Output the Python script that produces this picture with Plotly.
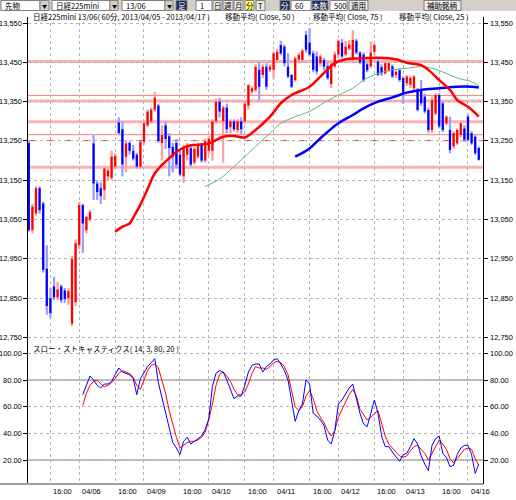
import plotly.graph_objects as go

# 日経225mini 13/06 60分足  (index 0 = 2013/04/05 10:00)
opens = [13245, 13023, 13066, 13130, 13091, 12925, 12850, 12880, 12852, 12880,
         12870, 12850, 12785, 12840, 12985, 13087, 13023, 13050, 13244, 13142,
         13130, 13125, 13160, 13156, 13185, 13297, 13280, 13210, 13245, 13225,
         13215, 13185, 13248, 13290, 13300, 13330, 13340, 13245, 13290, 13262,
         13235, 13245, 13215, 13160, 13215, 13232, 13195, 13210, 13240, 13200,
         13225, 13225, 13300, 13350, 13300, 13335, 13285, 13300, 13278, 13300,
         13300, 13340, 13376, 13380, 13431, 13418, 13439, 13431, 13431, 13456,
         13494, 13490, 13439, 13418, 13405, 13457, 13456, 13520, 13500, 13473,
         13465, 13448, 13456, 13440, 13395, 13440, 13470, 13500, 13470, 13485,
         13456, 13505, 13475, 13470, 13445, 13440, 13477, 13452, 13438, 13422,
         13430, 13440, 13418, 13430, 13410, 13397, 13393, 13384, 13380, 13380,
         13363, 13329, 13278, 13320, 13367, 13346, 13295, 13278, 13236, 13244,
         13265, 13282, 13312, 13270, 13261, 13232]
highs = [13250, 13090, 13135, 13135, 13095, 12985, 12876, 12905, 12892, 12885,
         12876, 12875, 12958, 13000, 13095, 13090, 13060, 13075, 13265, 13150,
         13145, 13185, 13180, 13225, 13218, 13310, 13300, 13250, 13250, 13240,
         13220, 13250, 13300, 13330, 13335, 13375, 13345, 13290, 13300, 13270,
         13245, 13255, 13225, 13240, 13245, 13240, 13235, 13245, 13245, 13255,
         13262, 13305, 13358, 13360, 13340, 13345, 13305, 13305, 13305, 13310,
         13350, 13395, 13390, 13445, 13452, 13445, 13448, 13445, 13478, 13485,
         13505, 13495, 13473, 13420, 13465, 13475, 13485, 13530, 13537, 13480,
         13478, 13470, 13462, 13450, 13450, 13478, 13508, 13510, 13505, 13507,
         13532, 13510, 13478, 13475, 13450, 13503, 13498, 13460, 13445, 13452,
         13450, 13445, 13430, 13435, 13415, 13418, 13415, 13418, 13385, 13405,
         13370, 13335, 13363, 13372, 13372, 13350, 13315, 13312, 13275, 13282,
         13300, 13290, 13318, 13275, 13265, 13236]
lows = [13020, 13015, 13060, 13065, 12915, 12808, 12800, 12845, 12845, 12838,
        12838, 12833, 12778, 12830, 12975, 12965, 13015, 13045, 13100, 13100,
        13090, 13100, 13150, 13150, 13180, 13265, 13160, 13170, 13215, 13200,
        13180, 13180, 13240, 13285, 13295, 13325, 13245, 13200, 13230, 13160,
        13170, 13180, 13160, 13143, 13200, 13185, 13190, 13205, 13195, 13195,
        13215, 13200, 13295, 13310, 13195, 13270, 13270, 13275, 13270, 13268,
        13295, 13330, 13370, 13375, 13354, 13410, 13380, 13425, 13410, 13450,
        13468, 13440, 13410, 13385, 13400, 13450, 13450, 13475, 13465, 13425,
        13420, 13440, 13430, 13405, 13385, 13435, 13460, 13460, 13465, 13480,
        13450, 13470, 13445, 13400, 13425, 13435, 13470, 13415, 13415, 13418,
        13425, 13410, 13410, 13400, 13345, 13390, 13385, 13380, 13325, 13340,
        13320, 13270, 13270, 13315, 13282, 13272, 13290, 13219, 13230, 13240,
        13260, 13248, 13248, 13240, 13215, 13200]
closes = [13023, 13083, 13130, 13074, 12922, 12830, 12812, 12852, 12872, 12845,
          12848, 12868, 12950, 12990, 13087, 13040, 13057, 13069, 13142, 13120,
          13110, 13180, 13175, 13210, 13212, 13270, 13190, 13244, 13225, 13205,
          13185, 13248, 13295, 13325, 13330, 13360, 13250, 13265, 13255, 13232,
          13210, 13190, 13165, 13235, 13235, 13190, 13230, 13240, 13200, 13250,
          13255, 13300, 13350, 13325, 13335, 13280, 13300, 13280, 13300, 13280,
          13345, 13392, 13384, 13439, 13388, 13439, 13388, 13439, 13473, 13477,
          13473, 13448, 13414, 13388, 13460, 13469, 13480, 13482, 13470, 13431,
          13427, 13465, 13439, 13410, 13445, 13470, 13505, 13465, 13490, 13495,
          13507, 13475, 13450, 13405, 13430, 13475, 13494, 13418, 13422, 13448,
          13448, 13414, 13426, 13405, 13370, 13414, 13410, 13414, 13329, 13346,
          13325, 13278, 13354, 13367, 13287, 13278, 13312, 13227, 13270, 13278,
          13295, 13253, 13253, 13244, 13219, 13202]

# moving averages (bar index, value)
ma25_idx = [24, 26, 28, 29, 31, 33, 35, 37, 39, 41, 44, 50, 54, 57, 60, 63, 67, 70,
            73, 78, 81, 85, 88, 91, 94, 97, 102, 105, 109, 111, 114, 117, 119, 122, 125]
ma25_val = [13019, 13032, 13040, 13055, 13088, 13128, 13168, 13189, 13206, 13222,
            13237, 13244, 13261, 13263, 13259, 13278, 13312, 13346, 13367, 13388,
            13414, 13448, 13458, 13460, 13461, 13462, 13458, 13449, 13443, 13431,
            13405, 13380, 13354, 13337, 13312]
ma50_idx = [49, 53, 55, 59, 63, 67, 70, 74, 78, 81, 86, 90, 93, 97, 101, 105, 109,
            112, 116, 119, 123, 125]
ma50_val = [13134, 13153, 13168, 13202, 13236, 13270, 13295, 13312, 13325, 13342,
            13367, 13384, 13405, 13422, 13431, 13435, 13439, 13435, 13422, 13410,
            13401, 13390]
ma75_idx = [74, 78, 81, 86, 90, 93, 97, 101, 105, 109, 114, 119, 123, 125]
ma75_val = [13210, 13231, 13257, 13295, 13316, 13333, 13350, 13361, 13373, 13380,
            13384, 13388, 13388, 13386]

# slow stochastics (14, 3) from bar 15
stoch_start = 15
stoch_k = [69, 76, 83, 80, 76, 74, 77, 77, 79, 84,
           89, 86, 85, 84, 81, 69, 81, 86, 90, 93,
           96, 78, 67, 55, 43, 33, 29, 24, 34, 37,
           32, 34, 36, 38, 43, 51, 75, 85, 87, 86,
           80, 73, 66, 68, 68, 76, 86, 91, 92, 92,
           86, 90, 92, 95, 96, 92, 87, 80, 65, 49,
           57, 62, 80, 77, 55, 53, 50, 46, 35, 32,
           42, 62, 65, 70, 74, 77, 66, 55, 47, 45,
           55, 65, 55, 38, 30, 30, 26, 22, 19, 24,
           25, 30, 36, 32, 23, 17, 12, 31, 36, 38,
           25, 22, 15, 16, 24, 29, 31, 31, 24, 10,
           17]
stoch_d = [61, 70, 76, 79, 80, 77, 75, 76, 78, 81,
           85, 87, 86, 85, 82, 76, 73, 80, 87, 91,
           92, 89, 80, 70, 57, 46, 37, 29, 31, 33,
           34, 34, 35, 37, 41, 50, 62, 76, 84, 86,
           83, 79, 73, 69, 69, 71, 77, 85, 90, 89,
           89, 88, 90, 93, 94, 93, 90, 84, 72, 60,
           57, 60, 68, 72, 66, 57, 52, 48, 42, 38,
           42, 52, 58, 64, 69, 73, 68, 58, 54, 50,
           52, 55, 57, 48, 38, 32, 29, 26, 23, 22,
           23, 27, 30, 31, 28, 25, 20, 25, 31, 35,
           32, 28, 21, 18, 21, 25, 28, 29, 28, 21,
           16]

# horizontal price lines
level_prices = [13452, 13366, 13352, 13299, 13266, 13251, 13183]
level_kinds = ['band', 'thin', 'band', 'band', 'thin', 'dash', 'band']

x_tick_idx = [6, 14, 24, 32, 42, 50, 60, 68, 78, 86, 96, 104, 114, 122]
x_tick_text = ['16:00', '04/06', '16:00', '04/09', '16:00', '04/10', '16:00',
               '04/11', '16:00', '04/12', '16:00', '04/13', '16:00', '04/16']
price_ticks = [12750, 12850, 12950, 13050, 13150, 13250, 13350, 13450, 13550]
stoch_ticks = [20, 40, 60, 80, 100]

W, H = 516, 500
ML, MR, MT, MB = 28, 33, 17, 16


def px(x):
    return (x - ML) / (W - ML - MR)


def py(y):
    return (H - MB - y) / (H - MT - MB)


idx = list(range(len(closes)))
up = [c >= o for o, c in zip(opens, closes)]
stoch_idx = list(range(stoch_start, stoch_start + len(stoch_k)))

fig = go.Figure()

# candles: pale wick bar under a saturated body bar
for is_up, wick_col in [(True, '#FF9C9C'), (False, '#9C9CFF')]:
    sel = [i for i in idx if up[i] == is_up]
    fig.add_trace(go.Bar(
        x=sel, y=[highs[i] - lows[i] for i in sel], base=[lows[i] for i in sel],
        width=0.62, marker=dict(color=wick_col, line_width=0), hoverinfo='skip'
    ))
for is_up, body_col in [(True, '#FF0000'), (False, '#0000FF')]:
    sel = [i for i in idx if up[i] == is_up]
    fig.add_trace(go.Bar(
        x=sel, y=[abs(closes[i] - opens[i]) for i in sel],
        base=[min(opens[i], closes[i]) for i in sel],
        width=0.62, marker=dict(color=body_col, line_width=0), hoverinfo='skip'
    ))

fig.add_trace(go.Scatter(x=ma50_idx, y=ma50_val, mode='lines', line_shape='spline',
                         line=dict(color='#55BB88', width=1), hoverinfo='skip'))
fig.add_trace(go.Scatter(x=ma75_idx, y=ma75_val, mode='lines', line_shape='spline',
                         line=dict(color='#0000FF', width=2.5), hoverinfo='skip'))
fig.add_trace(go.Scatter(x=ma25_idx, y=ma25_val, mode='lines', line_shape='spline',
                         line=dict(color='#FF0000', width=2.5), hoverinfo='skip'))

fig.add_trace(go.Scatter(x=stoch_idx, y=stoch_d, mode='lines', xaxis='x2', yaxis='y2',
                         line=dict(color='#FF0000', width=1), hoverinfo='skip'))
fig.add_trace(go.Scatter(x=stoch_idx, y=stoch_k, mode='lines', xaxis='x2', yaxis='y2',
                         line=dict(color='#0000FF', width=1), hoverinfo='skip'))

# invisible traces so the right-hand axes get drawn
fig.add_trace(go.Scatter(x=idx[:1], y=closes[:1], xaxis='x', yaxis='y3', mode='markers',
                         marker_opacity=0, hoverinfo='skip'))
fig.add_trace(go.Scatter(x=stoch_idx[:1], y=stoch_k[:1], xaxis='x2', yaxis='y4',
                         mode='markers', marker_opacity=0, hoverinfo='skip'))

for p, kind in zip(level_prices, level_kinds):
    if kind == 'band':
        ln = dict(color='rgba(255,100,100,0.5)', width=3)
    elif kind == 'thin':
        ln = dict(color='#FF7A7A', width=1)
    else:
        ln = dict(color='#E03030', width=1, dash='dash')
    fig.add_shape(type='line', xref='paper', yref='y', x0=0, x1=1, y0=p, y1=p,
                  line=ln, layer='below')

for lv in [80, 20]:
    fig.add_shape(type='line', xref='paper', yref='y2', x0=0, x1=1, y0=lv, y1=lv,
                  line=dict(color='#A8A8A8', width=1.5), layer='below')

# bottom axis bar
fig.add_shape(type='line', xref='paper', yref='paper', x0=px(0), x1=1, y0=0, y1=0,
              line=dict(color='#A0A0A0', width=2))

tick_font = dict(family='Liberation Sans', size=7.5, color='#000000')
cjk_font = dict(family='Noto Sans CJK JP', size=7.5, color='#000000')

# toolbar across the top
fig.add_shape(type='rect', xref='paper', yref='paper', x0=px(0), x1=px(W),
              y0=py(11), y1=py(0), fillcolor='#D4D0C8', line_width=0)
tool_items = [
    ('field', 1, 40, '先物'), ('drop', 40, 49, '▼'),
    ('field', 52, 110, '日経225mini'), ('drop', 110, 118, '▼'),
    ('field', 122, 165, '13/06'), ('drop', 165, 173, '▼'),
    ('dark', 176, 187, '足'), ('field', 196, 212, '1'),
    ('btn', 213, 222, '日'), ('btn', 223, 233, '週'), ('btn', 234, 243, '月'),
    ('yellow', 245, 254, '分'), ('btn', 256, 265, 'T'),
    ('dark', 280, 290, '分'), ('field', 291, 311, '60'),
    ('dark', 312, 328, '本数'), ('field', 330, 347, '500'),
    ('btn', 349, 368, '適用'), ('btn', 424, 461, '補助銘柄'),
]
fills = {'field': '#FFFFFF', 'drop': '#D4D0C8', 'dark': '#1C2A5C', 'btn': '#ECE9E2',
         'yellow': '#FFFF70'}
for kind, x0, x1, s in tool_items:
    fig.add_shape(type='rect', xref='paper', yref='paper', x0=px(x0), x1=px(x1),
                  y0=py(10.5), y1=py(0.5), fillcolor=fills[kind],
                  line=dict(color='#808080', width=1))
    if kind == 'field':
        xa, xx = 'left', px(x0 + 2)
    else:
        xa, xx = 'center', px((x0 + x1) / 2)
    col = '#FFFFFF' if kind == 'dark' else '#000000'
    fig.add_annotation(x=xx, y=py(5.5), xref='paper', yref='paper', showarrow=False,
                       xanchor=xa, yanchor='middle', text=s,
                       font=dict(family='Noto Sans CJK JP', size=5 if kind == 'drop' else 7.5,
                                 color=col))

# axis labels, both sides
for v in price_ticks:
    for xpos, anchor in [(24, 'right'), (488, 'left')]:
        fig.add_annotation(x=px(xpos), xref='paper', y=v, yref='y', text=f'{v:,}',
                           showarrow=False, xanchor=anchor, yanchor='middle', font=tick_font)
for v in stoch_ticks:
    for xpos, anchor in [(24, 'right'), (488, 'left')]:
        fig.add_annotation(x=px(xpos), xref='paper', y=v, yref='y2', text=f'{v:.2f}',
                           showarrow=False, xanchor=anchor, yanchor='middle', font=tick_font)

for t, s in zip(x_tick_idx, x_tick_text):
    fig.add_annotation(x=t, xref='x2', y=py(485), yref='paper', text=s, showarrow=False,
                       xanchor='left', yanchor='top', xshift=1, font=tick_font)

fig.add_annotation(x=px(31), y=py(16.5), xref='paper', yref='paper', showarrow=False,
                   xanchor='left', yanchor='middle', font=cjk_font,
                   text='日経225mini 13/06( 60分, 2013/04/05 - 2013/04/17 )')
for xpos, s in [(223, '移動平均( Close, 50 )'), (311, '移動平均( Close, 75 )'),
                (397, '移動平均( Close, 25 )')]:
    fig.add_annotation(x=px(xpos), y=py(16.5), xref='paper', yref='paper', showarrow=False,
                       xanchor='left', yanchor='middle', font=cjk_font, text=s)
fig.add_annotation(x=px(31), y=py(348), xref='paper', yref='paper', showarrow=False,
                   xanchor='left', yanchor='middle', font=cjk_font,
                   text='スロー・ストキャスティクス( 14, 3, 80, 20 )')

main_bottom = py(340)
grid = dict(showgrid=True, gridcolor='#B4B4B4', griddash='dot', gridwidth=1, zeroline=False)
side_axis = dict(ticks='outside', ticklen=4, tickcolor='black', showline=True,
                 linecolor='black', linewidth=1, showticklabels=False)

fig.update_layout(
    width=W, height=H,
    margin=dict(l=ML, r=MR, t=MT, b=MB, autoexpand=False),
    paper_bgcolor='white', plot_bgcolor='white',
    barmode='overlay', showlegend=False,
    xaxis=dict(domain=[0, 1], anchor='y', range=[-0.22, 126.17], tickvals=x_tick_idx,
               showticklabels=False, ticks='', **grid),
    xaxis2=dict(domain=[0, 1], anchor='y2', range=[-0.22, 126.17], tickvals=x_tick_idx,
                showticklabels=False, ticks='', **grid),
    yaxis=dict(domain=[main_bottom, 1], range=[12743.6, 13565.5], tickvals=price_ticks,
               **side_axis, **grid),
    yaxis2=dict(domain=[0, main_bottom], range=[2, 110], tickvals=stoch_ticks,
                **side_axis, **grid),
    yaxis3=dict(overlaying='y', side='right', anchor='x', range=[12743.6, 13565.5],
                tickvals=price_ticks, showgrid=False, zeroline=False, **side_axis),
    yaxis4=dict(overlaying='y2', side='right', anchor='x2', range=[2, 110],
                tickvals=stoch_ticks, showgrid=False, zeroline=False, **side_axis),
)

fig.write_html("out.html", config={'displayModeBar': False},
               post_script="document.body.style.margin='0';")
